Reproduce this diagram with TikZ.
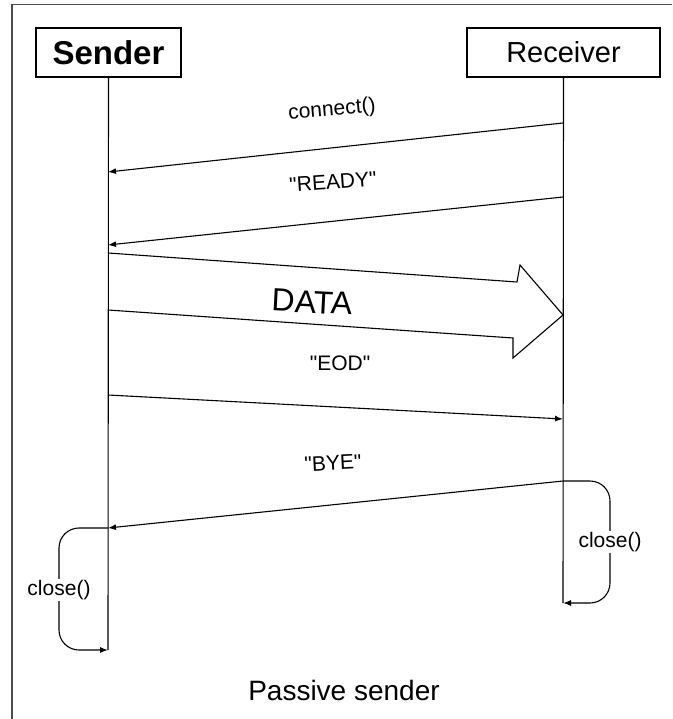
\documentclass[tikz,border=0pt]{standalone}
\usepackage{fontspec}
\setmainfont{Liberation Sans}[Ligatures=TeXOff]
\usetikzlibrary{arrows.meta}

\begin{document}
\begin{tikzpicture}[x=1pt, y=-1pt, line width=1.1pt,
  frame/.style={draw=black!70, line width=1.8pt},
  actor/.style={draw, minimum width=#1, minimum height=49pt, inner sep=0pt},
  msg/.style={-{Latex[length=8pt,width=6pt]}},
  loopmsg/.style={msg, rounded corners=20pt},
  lbl/.style={font=\fontsize{21}{23}\selectfont, inner sep=1pt}]
\useasboundingbox (0,0) rectangle (672,719);
\draw[frame] (12,719) -- (12,4.5) -- (672,4.5);
\node[actor=145pt, font=\fontsize{33}{35}\selectfont\bfseries] (sender) at (108.5,52.5) {Sender};
\node[actor=193pt, font=\fontsize{29}{31}\selectfont] (receiver) at (563.5,52.5) {Receiver};
\coordinate (send) at (108,650);
\coordinate (rend) at (563,603);
\draw (sender.south) -- (send);
\draw (receiver.south) -- (rend);
\coordinate (r1) at (563,123); \coordinate (s1) at (108,172);
\coordinate (r2) at (563,197); \coordinate (s2) at (108,245);
\coordinate (d1) at (108,253); \coordinate (dtip) at (563,315); \coordinate (d2) at (108,310);
\coordinate (s3) at (108,395); \coordinate (r3) at (563,419);
\coordinate (r4) at (563,481); \coordinate (s4) at (108,528);
\draw[msg] (r1) -- (s1);
\node[lbl, rotate=5] (connect) at (332,110) {connect()};
\draw[msg] (r2) -- (s2);
\node[lbl, rotate=4] (ready) at (333,182) {"READY"};
\draw (d1) -- (517,282) -- (520,265) -- (dtip) -- (513,358) -- (513,338) -- (d2);
\node[font=\fontsize{32}{34}\selectfont, rotate=-3] (data) at (312,302) {DATA};
\node[lbl] (eod) at (340,363) {"EOD"};
\draw[msg] (s3) -- (r3);
\node[lbl, rotate=3] (bye) at (333,463) {"BYE"};
\draw[msg] (r4) -- (s4);
\coordinate (rloop) at (610,542);
\draw[loopmsg] (r4) -| (rloop) |- (rend);
\node[lbl, fill=white] (rclose) at (rloop) {close()};
\coordinate (sloop) at (59,590);
\draw[loopmsg] (s4) -| (sloop) |- (send);
\node[lbl, fill=white] (sclose) at (sloop) {close()};
\node[font=\fontsize{28}{30}\selectfont] (caption) at (344,690) {Passive sender};
\end{tikzpicture}
\end{document}
